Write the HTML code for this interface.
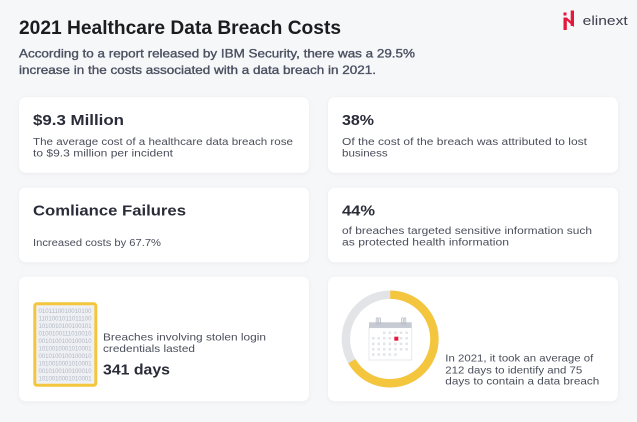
<!DOCTYPE html>
<html><head><meta charset="utf-8"><style>
html,body{margin:0;padding:0;background:#f6f7f9;}
svg{display:block;}
text{font-family:"Liberation Sans",sans-serif;}
</style></head><body>
<svg width="637" height="422" viewBox="0 0 637 422" xmlns="http://www.w3.org/2000/svg">
<defs>
<filter id="sh" x="-10%" y="-10%" width="120%" height="130%">
<feDropShadow dx="0" dy="1" stdDeviation="2" flood-color="#000" flood-opacity="0.05"/>
</filter>
</defs>
<rect width="637" height="422" fill="#f6f7f9"/>

<!-- header -->
<text x="19" y="34" font-size="19" font-weight="bold" fill="#1b1b20" textLength="322" lengthAdjust="spacingAndGlyphs">2021 Healthcare Data Breach Costs</text>
<text x="19" y="57.5" font-size="12" fill="#4b5060" stroke="#4b5060" stroke-width="0.35" textLength="396" lengthAdjust="spacingAndGlyphs">According to a report released by IBM Security, there was a 29.5%</text>
<text x="19" y="74" font-size="12" fill="#4b5060" stroke="#4b5060" stroke-width="0.35" textLength="357" lengthAdjust="spacingAndGlyphs">increase in the costs associated with a data breach in 2021.</text>

<!-- logo -->
<g fill="#e4173e">
<rect x="563.5" y="12.5" width="3" height="3"/>
<rect x="563.5" y="17.5" width="3.3" height="12.5"/>
<rect x="570.7" y="10.5" width="3.3" height="15.5"/>
<polygon points="563.5,17.5 566.8,17.5 574,24 574,27 "/>
</g>
<text x="582.7" y="25" font-size="12.5" fill="#3b3e4b" textLength="45" lengthAdjust="spacingAndGlyphs">elinext</text>

<!-- cards -->
<g fill="#ffffff" filter="url(#sh)">
<rect x="19" y="97.3" width="290" height="75.4" rx="7"/>
<rect x="328" y="97.3" width="290" height="75.4" rx="7"/>
<rect x="19" y="187.7" width="290" height="74.6" rx="7"/>
<rect x="328" y="187.7" width="290" height="74.6" rx="7"/>
<rect x="19" y="276.7" width="290" height="124.6" rx="7"/>
<rect x="328" y="276.7" width="290" height="124.6" rx="7"/>
</g>

<!-- card 1 -->
<text x="33" y="125" font-size="15" font-weight="bold" fill="#2a2d39" textLength="91" lengthAdjust="spacingAndGlyphs">$9.3 Million</text>
<text x="33" y="145" font-size="10" fill="#4a4e5a" textLength="260" lengthAdjust="spacingAndGlyphs">The average cost of a healthcare data breach rose</text>
<text x="33" y="156.5" font-size="10" fill="#4a4e5a" textLength="140" lengthAdjust="spacingAndGlyphs">to $9.3 million per incident</text>

<!-- card 2 -->
<text x="342" y="125" font-size="15" font-weight="bold" fill="#2a2d39" textLength="32" lengthAdjust="spacingAndGlyphs">38%</text>
<text x="342" y="145" font-size="10" fill="#4a4e5a" textLength="245" lengthAdjust="spacingAndGlyphs">Of the cost of the breach was attributed to lost</text>
<text x="342" y="156.3" font-size="10" fill="#4a4e5a" textLength="45.7" lengthAdjust="spacingAndGlyphs">business</text>

<!-- card 3 -->
<text x="33" y="215.3" font-size="15" font-weight="bold" fill="#2a2d39" textLength="153" lengthAdjust="spacingAndGlyphs">Comliance Failures</text>
<text x="33" y="246" font-size="10" fill="#4a4e5a" textLength="128" lengthAdjust="spacingAndGlyphs">Increased costs by 67.7%</text>

<!-- card 4 -->
<text x="342" y="215.7" font-size="15" font-weight="bold" fill="#2a2d39" textLength="33" lengthAdjust="spacingAndGlyphs">44%</text>
<text x="342" y="234" font-size="10" fill="#4a4e5a" textLength="250" lengthAdjust="spacingAndGlyphs">of breaches targeted sensitive information such</text>
<text x="342" y="245.7" font-size="10" fill="#4a4e5a" textLength="167" lengthAdjust="spacingAndGlyphs">as protected health information</text>

<!-- card 5 -->
<rect x="34.8" y="303.8" width="61" height="81.5" rx="2" fill="#eef0f4" stroke="#f4c63d" stroke-width="3"/>
<g font-size="6" fill="#b2b7c2">
<text x="38.5" y="313" textLength="53" lengthAdjust="spacingAndGlyphs">0101110010010100</text>
<text x="38.5" y="320.5" textLength="53" lengthAdjust="spacingAndGlyphs">1101001011011100</text>
<text x="38.5" y="328" textLength="53" lengthAdjust="spacingAndGlyphs">1010010100100101</text>
<text x="38.5" y="335.5" textLength="53" lengthAdjust="spacingAndGlyphs">0100100111010010</text>
<text x="38.5" y="343" textLength="53" lengthAdjust="spacingAndGlyphs">0010100100100010</text>
<text x="38.5" y="350.5" textLength="53" lengthAdjust="spacingAndGlyphs">1010010001010001</text>
<text x="38.5" y="358" textLength="53" lengthAdjust="spacingAndGlyphs">0010100100100010</text>
<text x="38.5" y="365.5" textLength="53" lengthAdjust="spacingAndGlyphs">1010010001010001</text>
<text x="38.5" y="373" textLength="53" lengthAdjust="spacingAndGlyphs">0010100100100010</text>
<text x="38.5" y="380.5" textLength="53" lengthAdjust="spacingAndGlyphs">1010010001010001</text>
</g>
<text x="103" y="340.7" font-size="10.5" fill="#4a4e5a" textLength="163" lengthAdjust="spacingAndGlyphs">Breaches involving stolen login</text>
<text x="103" y="352" font-size="10.5" fill="#4a4e5a" textLength="92" lengthAdjust="spacingAndGlyphs">credentials lasted</text>
<text x="103" y="374.3" font-size="15" font-weight="bold" fill="#2a2d39" textLength="67" lengthAdjust="spacingAndGlyphs">341 days</text>

<!-- card 6 -->
<circle cx="390.2" cy="339" r="44.3" fill="none" stroke="#e2e4e8" stroke-width="8.4"/>
<path d="M390.2,294.7 A44.3,44.3 0 1,1 351.8,361.2" fill="none" stroke="#f4c63d" stroke-width="8.4"/>
<rect x="369" y="327.7" width="42.7" height="32.3" fill="#ffffff" stroke="#e3e5ea" stroke-width="0.8"/>
<rect x="369" y="322.3" width="42.7" height="5.6" fill="#c5cad3"/>
<rect x="376.2" y="317.8" width="1.6" height="6.5" rx="0.8" fill="none" stroke="#b8bdc6" stroke-width="0.8"/>
<rect x="378.8" y="317.8" width="1.6" height="6.5" rx="0.8" fill="none" stroke="#b8bdc6" stroke-width="0.8"/>
<rect x="401.6" y="317.8" width="1.6" height="6.5" rx="0.8" fill="none" stroke="#b8bdc6" stroke-width="0.8"/>
<rect x="404.2" y="317.8" width="1.6" height="6.5" rx="0.8" fill="none" stroke="#b8bdc6" stroke-width="0.8"/>
<g fill="#e1e4e9">
<!-- row1 cols 3-7 -->
<rect x="383" y="331.5" width="2.5" height="2.5"/><rect x="388.6" y="331.5" width="2.5" height="2.5"/><rect x="394.2" y="331.5" width="2.5" height="2.5"/><rect x="399.8" y="331.5" width="2.5" height="2.5"/><rect x="405.4" y="331.5" width="2.5" height="2.5"/>
<!-- row2 -->
<rect x="372" y="337" width="2.5" height="2.5"/><rect x="377.5" y="337" width="2.5" height="2.5"/><rect x="383" y="337" width="2.5" height="2.5"/><rect x="388.6" y="337" width="2.5" height="2.5"/><rect x="399.8" y="337" width="2.5" height="2.5"/><rect x="405.4" y="337" width="2.5" height="2.5"/>
<!-- row3 -->
<rect x="372" y="342.6" width="2.5" height="2.5"/><rect x="377.5" y="342.6" width="2.5" height="2.5"/><rect x="383" y="342.6" width="2.5" height="2.5"/><rect x="388.6" y="342.6" width="2.5" height="2.5"/><rect x="394.2" y="342.6" width="2.5" height="2.5"/><rect x="399.8" y="342.6" width="2.5" height="2.5"/><rect x="405.4" y="342.6" width="2.5" height="2.5"/>
<!-- row4 -->
<rect x="372" y="348" width="2.5" height="2.5"/><rect x="377.5" y="348" width="2.5" height="2.5"/><rect x="383" y="348" width="2.5" height="2.5"/><rect x="388.6" y="348" width="2.5" height="2.5"/><rect x="394.2" y="348" width="2.5" height="2.5"/><rect x="399.8" y="348" width="2.5" height="2.5"/><rect x="405.4" y="348" width="2.5" height="2.5"/>
<!-- row5 -->
<rect x="372" y="353.3" width="2.5" height="2.5"/><rect x="377.5" y="353.3" width="2.5" height="2.5"/><rect x="383" y="353.3" width="2.5" height="2.5"/><rect x="388.6" y="353.3" width="2.5" height="2.5"/><rect x="394.2" y="353.3" width="2.5" height="2.5"/>
</g>
<rect x="394.3" y="336.7" width="4" height="4" fill="#e8183c"/>
<text x="445.3" y="361.7" font-size="10.5" fill="#4a4e5a" textLength="148" lengthAdjust="spacingAndGlyphs">In 2021, it took an average of</text>
<text x="445.3" y="373.3" font-size="10.5" fill="#4a4e5a" textLength="137" lengthAdjust="spacingAndGlyphs">212 days to identify and 75</text>
<text x="445.3" y="384.3" font-size="10.5" fill="#4a4e5a" textLength="154" lengthAdjust="spacingAndGlyphs">days to contain a data breach</text>
</svg>
</body></html>
